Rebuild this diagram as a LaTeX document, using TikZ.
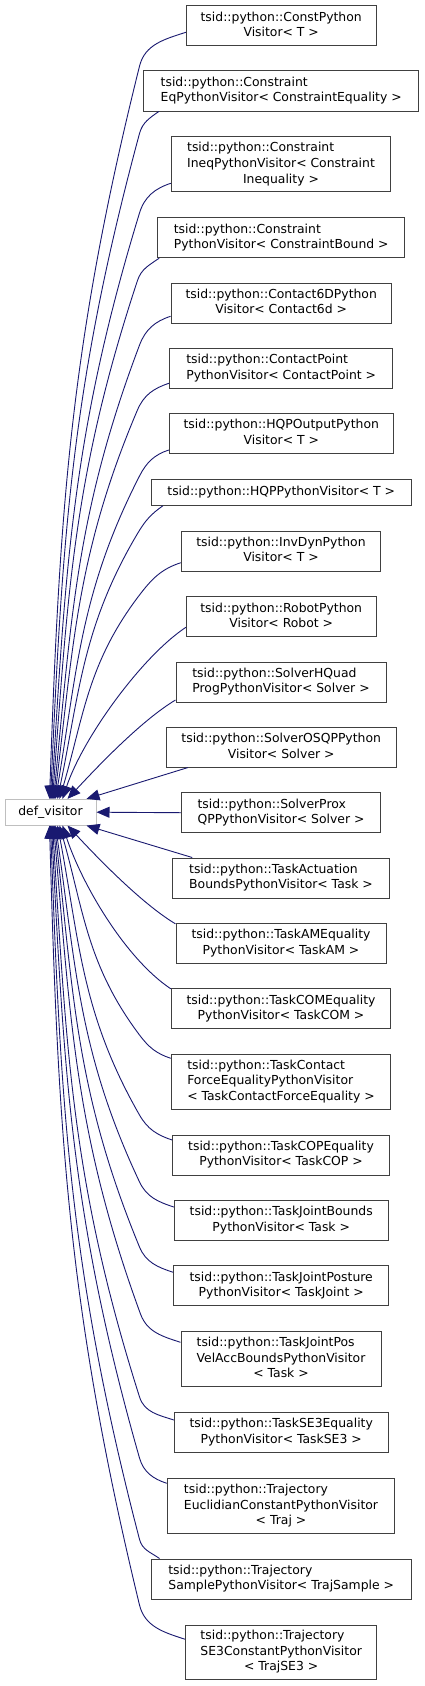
\documentclass[tikz,border=0pt]{standalone}
\usepackage{fontspec}
\setmainfont{DejaVu Sans}
\usetikzlibrary{arrows.meta,calc}
\definecolor{edgeblue}{HTML}{191970}
\definecolor{boxgray}{HTML}{404040}
\definecolor{rootgray}{HTML}{BFBFBF}
\newcommand\midln[1]{\multicolumn{1}{@{}c@{}}{#1}}
\newcommand\lbl[1]{\begin{tabular}{@{}l@{}}#1\end{tabular}}
\tikzset{
  box/.style={draw=boxgray, line width=1pt, fill=white, inner sep=0pt,
    font=\fontsize{12.4}{15.6}\selectfont},
  rootbox/.style={box, draw=rootgray},
  edge/.style={draw=edgeblue, line width=0.9pt, -{Triangle[length=13pt,width=11pt]}}
}
\begin{document}
\begin{tikzpicture}[x=1pt,y=-1pt]
\useasboundingbox (0,0) rectangle (424,1686);
\fill[white] (0,0) rectangle (424,1686);
\node[rootbox, minimum width=91pt, minimum height=25.7pt] (dv) at (50.5,812.2) {def\_visitor};

\node[box, minimum width=189.7pt, minimum height=40pt] (n1) at (281.2,25.7) {\lbl{tsid::python::ConstPython\\ \midln{Visitor< T >}}};
\node[box, minimum width=275pt, minimum height=40pt] (n2) at (281.2,91) {\lbl{tsid::python::Constraint\\ EqPythonVisitor< ConstraintEquality >}};
\node[box, minimum width=219.4pt, minimum height=55.3pt] (n3) at (281,164.3) {\lbl{tsid::python::Constraint\\ IneqPythonVisitor< Constraint\\ \midln{Inequality >}}};
\node[box, minimum width=247pt, minimum height=39.7pt] (n4) at (281.2,237.8) {\lbl{tsid::python::Constraint\\ PythonVisitor< ConstraintBound >}};
\node[box, minimum width=220.3pt, minimum height=40pt] (n5) at (281.2,303) {\lbl{tsid::python::Contact6DPython\\ \midln{Visitor< Contact6d >}}};
\node[box, minimum width=223pt, minimum height=39.7pt] (n6) at (281.2,368.2) {\lbl{tsid::python::ContactPoint\\ PythonVisitor< ContactPoint >}};
\node[box, minimum width=224pt, minimum height=39.6pt] (n7) at (281.3,433.5) {\lbl{tsid::python::HQPOutputPython\\ \midln{Visitor< T >}}};
\node[box, minimum width=260.3pt, minimum height=26pt] (n8) at (281.2,492.3) {tsid::python::HQPPythonVisitor< T >};
\node[box, minimum width=199.4pt, minimum height=40pt] (n9) at (281,551) {\lbl{tsid::python::InvDynPython\\ \midln{Visitor< T >}}};
\node[box, minimum width=189.7pt, minimum height=40pt] (n10) at (281.2,616.7) {\lbl{tsid::python::RobotPython\\ \midln{Visitor< Robot >}}};
\node[box, minimum width=210pt, minimum height=40pt] (n11) at (281,682) {\lbl{tsid::python::SolverHQuad\\ ProgPythonVisitor< Solver >}};
\node[box, minimum width=229.7pt, minimum height=39.7pt] (n12) at (281.2,747.2) {\lbl{tsid::python::SolverOSQPPython\\ \midln{Visitor< Solver >}}};
\node[box, minimum width=199.4pt, minimum height=40pt] (n13) at (281,812.7) {\lbl{tsid::python::SolverProx\\ QPPythonVisitor< Solver >}};
\node[box, minimum width=216.6pt, minimum height=40pt] (n14) at (281,878) {\lbl{tsid::python::TaskActuation\\ BoundsPythonVisitor< Task >}};
\node[box, minimum width=210pt, minimum height=39.7pt] (n15) at (281,943.2) {\lbl{tsid::python::TaskAMEquality\\ \midln{PythonVisitor< TaskAM >}}};
\node[box, minimum width=219.4pt, minimum height=40pt] (n16) at (281,1008.7) {\lbl{tsid::python::TaskCOMEquality\\ \midln{PythonVisitor< TaskCOM >}}};
\node[box, minimum width=219.4pt, minimum height=55pt] (n17) at (281,1081.8) {\lbl{tsid::python::TaskContact\\ ForceEqualityPythonVisitor\\ < TaskContactForceEquality >}};
\node[box, minimum width=216.6pt, minimum height=40pt] (n18) at (281,1155) {\lbl{tsid::python::TaskCOPEquality\\ \midln{PythonVisitor< TaskCOP >}}};
\node[box, minimum width=213.7pt, minimum height=40pt] (n19) at (281.2,1220.3) {\lbl{tsid::python::TaskJointBounds\\ \midln{PythonVisitor< Task >}}};
\node[box, minimum width=215pt, minimum height=40pt] (n20) at (281.2,1285.7) {\lbl{tsid::python::TaskJointPosture\\ \midln{PythonVisitor< TaskJoint >}}};
\node[box, minimum width=200pt, minimum height=55pt] (n21) at (281,1359.2) {\lbl{tsid::python::TaskJointPos\\ VelAccBoundsPythonVisitor\\ \midln{< Task >}}};
\node[box, minimum width=213.7pt, minimum height=39.6pt] (n22) at (281.2,1432.5) {\lbl{tsid::python::TaskSE3Equality\\ \midln{PythonVisitor< TaskSE3 >}}};
\node[box, minimum width=227.4pt, minimum height=54.6pt] (n23) at (281,1506) {\lbl{tsid::python::Trajectory\\ EuclidianConstantPythonVisitor\\ \midln{< Traj >}}};
\node[box, minimum width=260.3pt, minimum height=40pt] (n24) at (281.2,1579) {\lbl{tsid::python::Trajectory\\ SamplePythonVisitor< TrajSample >}};
\node[box, minimum width=191pt, minimum height=54.3pt] (n25) at (281.2,1652.2) {\lbl{tsid::python::Trajectory\\ SE3ConstantPythonVisitor\\ \midln{< TrajSE3 >}}};

% upper edges
\draw[edge] ($(n1.west)+(0,6.6)$) to[out=198,in=76] ++(-46.3,33.7) to[out=256,in=88] ($(dv.north west)+(45,0)$);
\draw[edge] ($(n2.south west)+(15.6,0)$) to[out=215,in=74.9] ++(-19.3,22) to[out=254.9,in=87.4] ($(dv.north west)+(46,0)$);
\draw[edge] ($(n3.west)+(0,19)$) to[out=198,in=73] ++(-31.3,29.7) to[out=253,in=86.5] ($(dv.north west)+(47,0)$);
\draw[edge] ($(n4.south west)+(2,0)$) to[out=215,in=71.7] ++(-21.7,22.3) to[out=251.7,in=85.7] ($(dv.north west)+(48,0)$);
\draw[edge] ($(n5.west)+(0,13.3)$) to[out=198,in=69.3] ++(-31,28.7) to[out=249.3,in=84.3] ($(dv.north west)+(49,0)$);
\draw[edge] ($(n6.west)+(0,15)$) to[out=198,in=67] ++(-31.7,26.7) to[out=247,in=83] ($(dv.north west)+(50,0)$);
\draw[edge] ($(n7.west)+(0,16.5)$) to[out=198,in=62.9] ++(-29.3,26) to[out=242.9,in=80.4] ($(dv.north west)+(51,0)$);
\draw[edge] ($(n8.south west)+(12.3,0)$) to[out=215,in=59.3] ++(-25.3,27.7) to[out=239.3,in=78.3] ($(dv.north west)+(53,0)$);
\draw[edge] ($(n9.west)+(0,11.7)$) to[out=198,in=52.6] ++(-41.3,32.3) to[out=232.6,in=73.6] ($(dv.north west)+(55,0)$);
\draw[edge] ($(n10.west)+(0,10.6)$) .. controls +(-45,30) and +(20,-60) .. ($(dv.north west)+(58,0)$);
\draw[edge] ($(n11.west)+(0,18)$) .. controls +(-35,21) and +(28,-30) .. ($(dv.north west)+(63,0)$);
\draw[edge] ($(n12.south west)+(22,0)$) -- ($(dv.north west)+(82,0)$);
\draw[edge] (n13.west) -- (dv.east);
\draw[edge] ($(n14.north west)+(20,0)$) -- ($(dv.south west)+(82,0)$);
% lower edges
\draw[edge] ($(n15.north west)+(0,1)$) .. controls +(-35,-21) and +(28,30) .. ($(dv.south west)+(63,0)$);
\draw[edge] ($(n16.north west)+(0,0.6)$) .. controls +(-45,-30) and +(20,60) .. ($(dv.south west)+(58,0)$);
\draw[edge] ($(n17.west)+(0,-23.5)$) to[out=162,in=306.9] ++(-31.3,-23.3) to[out=126.9,in=285.9] ($(dv.south west)+(55,0)$);
\draw[edge] ($(n18.west)+(0,-15)$) to[out=162,in=299.8] ++(-32.7,-25) to[out=119.8,in=280.8] ($(dv.south west)+(53,0)$);
\draw[edge] ($(n19.west)+(0,-13.3)$) to[out=162,in=295.2] ++(-34.3,-25) to[out=115.2,in=278.2] ($(dv.south west)+(51,0)$);
\draw[edge] ($(n20.west)+(0,-13.4)$) to[out=162,in=292.4] ++(-33.7,-25.3) to[out=112.4,in=276.4] ($(dv.south west)+(50,0)$);
\draw[edge] ($(n21.west)+(0,-16.9)$) to[out=162,in=290.1] ++(-40,-28.3) to[out=110.1,in=275.1] ($(dv.south west)+(49,0)$);
\draw[edge] ($(n22.west)+(0,-12.5)$) to[out=162,in=287.6] ++(-34.3,-23) to[out=107.6,in=273.6] ($(dv.south west)+(48,0)$);
\draw[edge] ($(n23.west)+(0,-22.7)$) to[out=162,in=285.9] ++(-27.3,-25.3) to[out=105.9,in=272.9] ($(dv.south west)+(47,0)$);
\draw[edge] ($(n24.north west)+(9,0)$) to[out=145,in=284.6] ++(-20,-19) to[out=104.6,in=272.1] ($(dv.south west)+(46,0)$);
\draw[edge] ($(n25.west)+(0,-12.9)$) to[out=162,in=283.6] ++(-45.7,-34.3) to[out=103.6,in=271.6] ($(dv.south west)+(45,0)$);
\end{tikzpicture}
\end{document}
